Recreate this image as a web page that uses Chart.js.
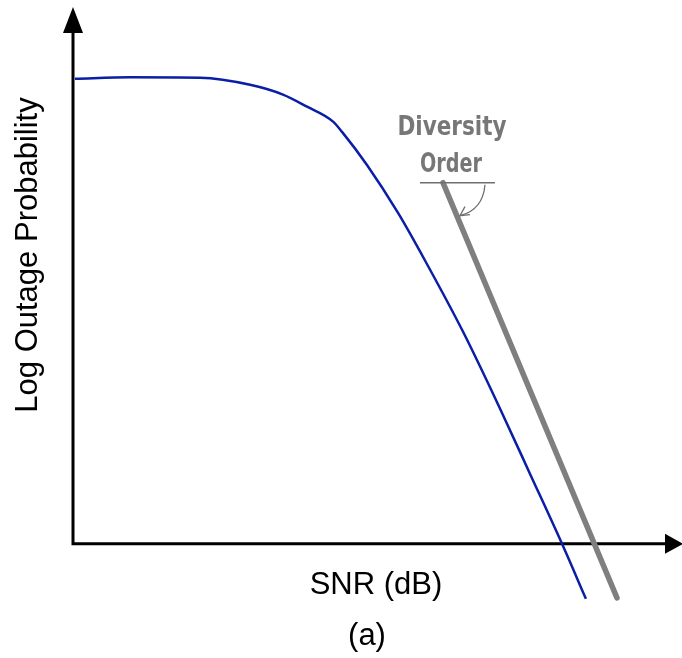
<!DOCTYPE html>
<html>
<head>
<meta charset="utf-8">
<script src="https://cdn.jsdelivr.net/npm/chart.js@4.4.1/dist/chart.umd.min.js"></script>
<style>
  html, body { margin: 0; padding: 0; background: #fff; }
  #wrap { width: 682px; height: 658px; }
</style>
</head>
<body>
<div id="wrap"><canvas id="outage" width="682" height="658"></canvas></div>
<script>
  // ---- Data ---------------------------------------------------------------
  // outage curve (SNR in dB, log outage probability)
  const snrCurve = [0.13, 3.74, 8.34, 11.63, 13.79, 15.37, 17.08, 17.67, 19.31, 21.35, 23.12, 25.62, 28.05, 30.02, 32.12, 33.69];
  const logOutage = [-0.02, 0.01, 0, -0.15, -0.36, -0.62, -0.94, -1.16, -1.87, -2.90, -3.92, -5.45, -7.10, -8.50, -10.0, -11.18];

  // asymptote with the diversity-order slope
  const snrSlope = [24.3, 35.73];
  const logSlope = [-2.25, -11.16];

  // axis extents and the level where the SNR axis sits
  const snrRange = [0, 40];
  const logRange = [-12.45, 1.52];
  const axisLevel = -10;

  const xTitle = "SNR (dB)";
  const yTitle = "Log Outage Probability";
  const caption = "(a)";
  const noteLines = ["Diversity", "Order"];

  const toPoints = (xs, ys) => xs.map((x, i) => ({ x, y: ys[i] }));

  // ---- Axes, arrows, titles, slope note ----------------------------------
  const sketchAxes = {
    id: "sketchAxes",
    beforeDatasetsDraw(chart) {
      const { ctx, scales: { x, y } } = chart;
      const x0 = x.getPixelForValue(snrRange[0]);
      const yAx = y.getPixelForValue(axisLevel);
      const yTop = y.getPixelForValue(logRange[1]);
      const xEnd = x.getPixelForValue(snrRange[1]);

      ctx.save();
      ctx.strokeStyle = "#000";
      ctx.fillStyle = "#000";
      ctx.lineWidth = 3;
      ctx.beginPath();
      ctx.moveTo(x0, yTop + 20);
      ctx.lineTo(x0, yAx);
      ctx.lineTo(xEnd - 12, yAx);
      ctx.stroke();

      // arrow heads
      ctx.beginPath();
      ctx.moveTo(x0, yTop);
      ctx.lineTo(x0 - 10, yTop + 26);
      ctx.lineTo(x0 + 10, yTop + 26);
      ctx.closePath();
      ctx.fill();
      ctx.beginPath();
      ctx.moveTo(xEnd + 1, yAx);
      ctx.lineTo(xEnd - 17, yAx - 10);
      ctx.lineTo(xEnd - 17, yAx + 10);
      ctx.closePath();
      ctx.fill();
      ctx.restore();
    },
    afterDatasetsDraw(chart) {
      const { ctx, scales: { x, y } } = chart;
      const x0 = x.getPixelForValue(snrRange[0]);
      const yAx = y.getPixelForValue(axisLevel);

      ctx.save();
      ctx.fillStyle = "#000";
      ctx.font = "31px 'Liberation Sans', Arial, sans-serif";
      ctx.textAlign = "center";
      ctx.textBaseline = "alphabetic";
      ctx.fillText(xTitle, 376, yAx + 50);
      ctx.fillText(caption, 367, yAx + 101);

      ctx.translate(x0 - 36, 255);
      ctx.rotate(-Math.PI / 2);
      ctx.fillText(yTitle, 0, 0);
      ctx.restore();

      // note on the slope line
      const tx = x.getPixelForValue(snrSlope[0]);
      const ty = y.getPixelForValue(logSlope[0]);
      ctx.save();
      ctx.strokeStyle = "#6e6e6e";
      ctx.lineWidth = 1.5;
      ctx.beginPath();
      ctx.moveTo(tx - 23, ty);
      ctx.lineTo(tx + 52, ty);
      ctx.stroke();

      // curved arrow showing the slope angle
      ctx.lineWidth = 1.3;
      ctx.beginPath();
      ctx.moveTo(tx + 42, ty + 2);
      ctx.quadraticCurveTo(tx + 40, ty + 27, tx + 17, ty + 33);
      ctx.stroke();
      ctx.beginPath();
      ctx.moveTo(tx + 22, ty + 24);
      ctx.lineTo(tx + 17, ty + 33);
      ctx.lineTo(tx + 27, ty + 32);
      ctx.stroke();

      ctx.fillStyle = "#777";
      ctx.font = "bold 26px 'Liberation Sans Narrow', 'DejaVu Sans Condensed', sans-serif";
      ctx.textAlign = "center";
      ctx.fillText(noteLines[0], tx + 9, ty - 48, 109);
      ctx.fillText(noteLines[1], tx + 8, ty - 11, 62);
      ctx.restore();
    },
  };

  // ---- Chart --------------------------------------------------------------
  new Chart(document.getElementById("outage").getContext("2d"), {
    type: "scatter",
    data: {
      datasets: [
        {
          data: toPoints(snrCurve, logOutage),
          showLine: true,
          borderColor: "#0a1ea6",
          borderWidth: 2.5,
          pointRadius: 0,
          cubicInterpolationMode: "monotone",
          clip: false,
        },
        {
          data: toPoints(snrSlope, logSlope),
          showLine: true,
          borderColor: "#7f7f7f",
          borderWidth: 5.5,
          borderCapStyle: "round",
          pointRadius: 0,
          clip: false,
        },
      ],
    },
    options: {
      responsive: false,
      animation: false,
      layout: { padding: { left: 73, top: 7, right: 0, bottom: 0 } },
      plugins: { legend: { display: false }, tooltip: { enabled: false } },
      scales: {
        x: { type: "linear", min: snrRange[0], max: snrRange[1], display: false },
        y: { type: "linear", min: logRange[0], max: logRange[1], display: false },
      },
    },
    plugins: [sketchAxes],
  });
</script>
</body>
</html>
